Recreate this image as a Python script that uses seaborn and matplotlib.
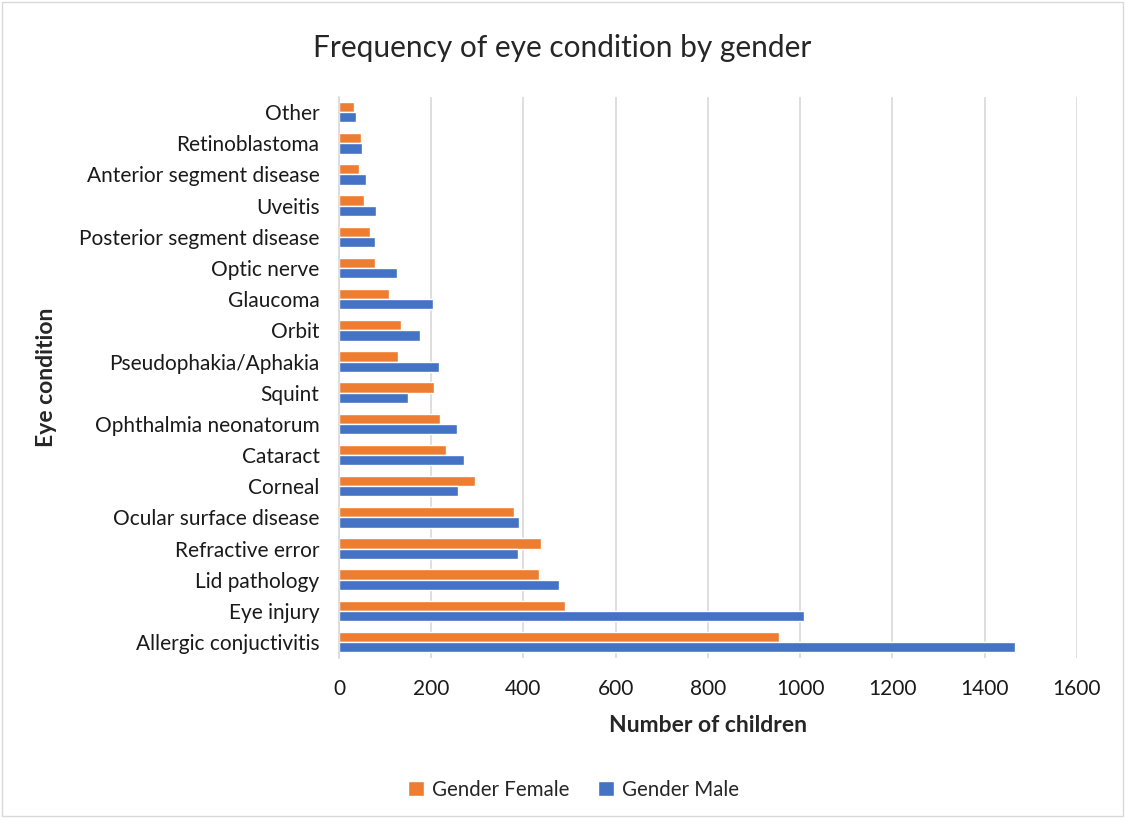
import matplotlib
matplotlib.use("Agg")
import matplotlib.pyplot as plt
import pandas as pd
import seaborn as sns

# eye conditions, top to bottom as in the chart
conditions = [
    "Other", "Retinoblastoma", "Anterior segment disease", "Uveitis",
    "Posterior segment disease", "Optic nerve", "Glaucoma", "Orbit",
    "Pseudophakia/Aphakia", "Squint", "Ophthalmia neonatorum", "Cataract",
    "Corneal", "Ocular surface disease", "Refractive error", "Lid pathology",
    "Eye injury", "Allergic conjuctivitis",
]
female = [33, 47, 43, 54, 67, 78, 108, 135, 127, 207, 220, 233, 296, 379, 437, 433, 490, 955]
male = [38, 50, 58, 80, 79, 125, 203, 175, 217, 150, 256, 272, 259, 391, 389, 477, 1008, 1466]
genders = ["Gender Female", "Gender Male"]
colors = ["#ED7D31", "#4472C4"]

df = pd.DataFrame({
    "condition": conditions * 2,
    "gender": [genders[0]] * len(conditions) + [genders[1]] * len(conditions),
    "count": female + male,
})

sns.set_theme(style="white")
plt.rcParams["font.family"] = ["Lato", "DejaVu Sans"]

fig = plt.figure(figsize=(11.25, 8.18), dpi=100)
ax = fig.add_axes([0.3013, 0.196, 0.656, 0.686])

sns.barplot(data=df, y="condition", x="count", hue="gender", order=conditions,
            hue_order=genders, palette=colors, width=0.66, orient="h",
            saturation=1, ax=ax)

ax.set_xlim(0, 1600)
ax.set_xticks(range(0, 1601, 200))
ax.grid(axis="x", color="#d9d9d9", linewidth=1.2)
ax.set_axisbelow(True)
for s in ["top", "right", "bottom"]:
    ax.spines[s].set_visible(False)
ax.spines["left"].set_color("#d9d9d9")
ax.spines["left"].set_linewidth(1.2)
ax.tick_params(axis="both", length=0, labelsize=15, colors="#1a1a1a")
ax.tick_params(axis="x", pad=15)
ax.tick_params(axis="y", pad=14)

ax.set_xlabel("Number of children", fontsize=16.5, fontweight="bold", labelpad=12)
ax.set_ylabel("Eye condition", fontsize=16.5, fontweight="bold", labelpad=16)
fig.suptitle("Frequency of eye condition by gender", fontsize=21.5, y=0.958)

ax.legend(loc="upper center", bbox_to_anchor=(0.318, -0.185), ncol=2, frameon=False,
          fontsize=14.8, handlelength=0.75, handleheight=0.75, columnspacing=1.4,
          handletextpad=0.4)

# thin chart border
fig.patches.append(plt.Rectangle((0.002, 0.002), 0.996, 0.996, transform=fig.transFigure,
                                 fill=False, edgecolor="#d9d9d9", linewidth=1))

fig.savefig("out.png", dpi=100)
